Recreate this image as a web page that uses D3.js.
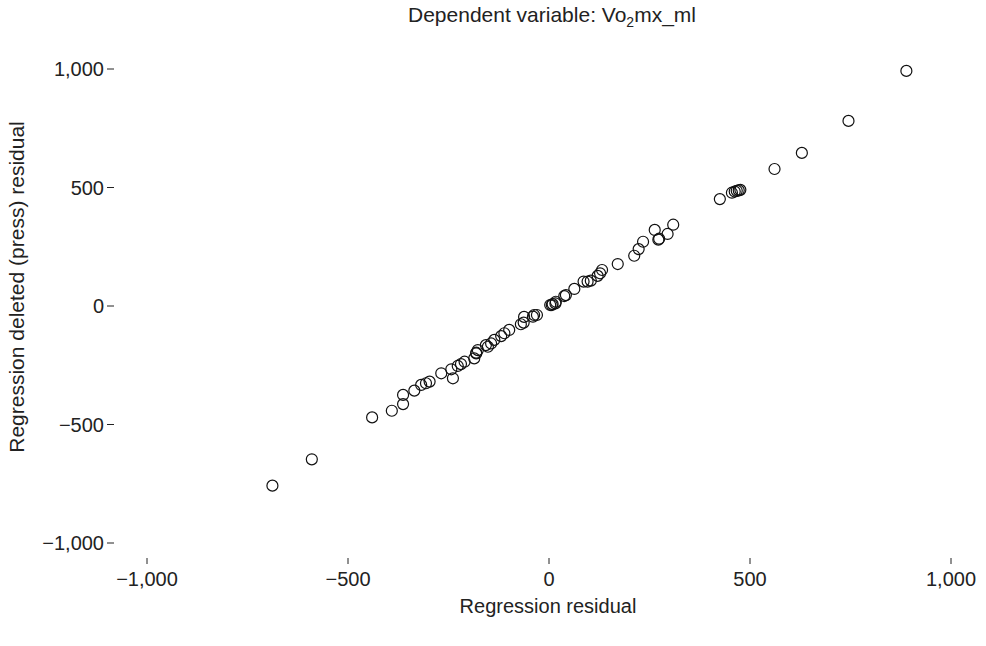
<!DOCTYPE html>
<html>
<head>
<meta charset="utf-8">
<script src="https://cdn.jsdelivr.net/npm/d3@7"></script>
<style>
  body { margin: 0; background: #fff; }
  text { font-family: "Liberation Sans", Arial, sans-serif; fill: #222; }
</style>
</head>
<body>
<svg id="chart" width="986" height="646"></svg>
<script>
// values
const residual = [889, 745, 629, 561, 425, 455, 462, 467, 472, 476, 309, 263, 295, 274, 272,
  234, 223, 212, 171, 132, 127, 121, 104, 96, 86, 63, 42, 38, 17, 9, 3, 16, 7, -30, -37,
  -40, -62, -63, -70, -99, -111, -119, -136, -144, -152, -157, -177, -181, -181, -186,
  -210, -219, -227, -243, -239, -268, -297, -306, -318, -335, -363, -363, -391, -440, -590, -688];
const deleted = [992, 781, 646, 578, 451, 478, 483, 486, 488, 490, 343, 321, 304, 284, 280,
  271, 240, 212, 177, 152, 138, 127, 107, 103, 103, 72, 46, 42, 18, 8, 4, 11, 4, -38, -38,
  -45, -46, -70, -77, -101, -115, -127, -143, -158, -172, -165, -186, -200, -197, -221,
  -235, -245, -253, -267, -305, -284, -319, -326, -333, -357, -375, -414, -442, -470, -647, -758];
const xTicks = [-1000, -500, 0, 500, 1000];
const yTicks = [-1000, -500, 0, 500, 1000];

const svg = d3.select('#chart');

const x = d3.scaleLinear().domain([-1000, 1000]).range([147, 951]);
const y = d3.scaleLinear().domain([-1000, 1000]).range([543, 69]);

const fmt = v => d3.format(',')(v).replace('-', '\u2212');

// y axis: label then a short dash, no axis line
const gy = svg.append('g');
gy.selectAll('text')
  .data(yTicks)
  .enter()
  .append('text')
  .attr('x', 104)
  .attr('y', d => y(d))
  .attr('dy', '0.35em')
  .attr('text-anchor', 'end')
  .style('font-size', '20px')
  .text(fmt);
gy.selectAll('line')
  .data(yTicks)
  .enter()
  .append('line')
  .attr('x1', 107).attr('x2', 114)
  .attr('y1', d => y(d)).attr('y2', d => y(d))
  .attr('stroke', '#222').attr('stroke-width', 1);

// x axis: short vertical tick above each label
const gx = svg.append('g');
gx.selectAll('line')
  .data(xTicks)
  .enter()
  .append('line')
  .attr('x1', d => x(d)).attr('x2', d => x(d))
  .attr('y1', 558).attr('y2', 564)
  .attr('stroke', '#222').attr('stroke-width', 1);
gx.selectAll('text')
  .data(xTicks)
  .enter()
  .append('text')
  .attr('x', d => x(d))
  .attr('y', 586)
  .attr('text-anchor', 'middle')
  .style('font-size', '20px')
  .text(fmt);

// points
svg.append('g')
  .selectAll('circle')
  .data(residual.map((r, i) => ({ r, d: deleted[i] })))
  .enter()
  .append('circle')
  .attr('cx', p => x(p.r))
  .attr('cy', p => y(p.d))
  .attr('r', 5.5)
  .attr('fill', 'none')
  .attr('stroke', '#111')
  .attr('stroke-width', 1.2);

// titles
const title = svg.append('text')
  .attr('x', 552).attr('y', 22)
  .attr('text-anchor', 'middle')
  .style('font-size', '21px');
title.append('tspan').text('Dependent variable: Vo');
title.append('tspan').attr('dy', 5).style('font-size', '14px').text('2');
title.append('tspan').attr('dy', -5).text('mx_ml');

svg.append('text')
  .attr('x', 548).attr('y', 613)
  .attr('text-anchor', 'middle')
  .style('font-size', '20px')
  .text('Regression residual');

svg.append('text')
  .attr('transform', 'translate(24,287) rotate(-90)')
  .attr('text-anchor', 'middle')
  .style('font-size', '21px')
  .text('Regression deleted (press) residual');
</script>
</body>
</html>
